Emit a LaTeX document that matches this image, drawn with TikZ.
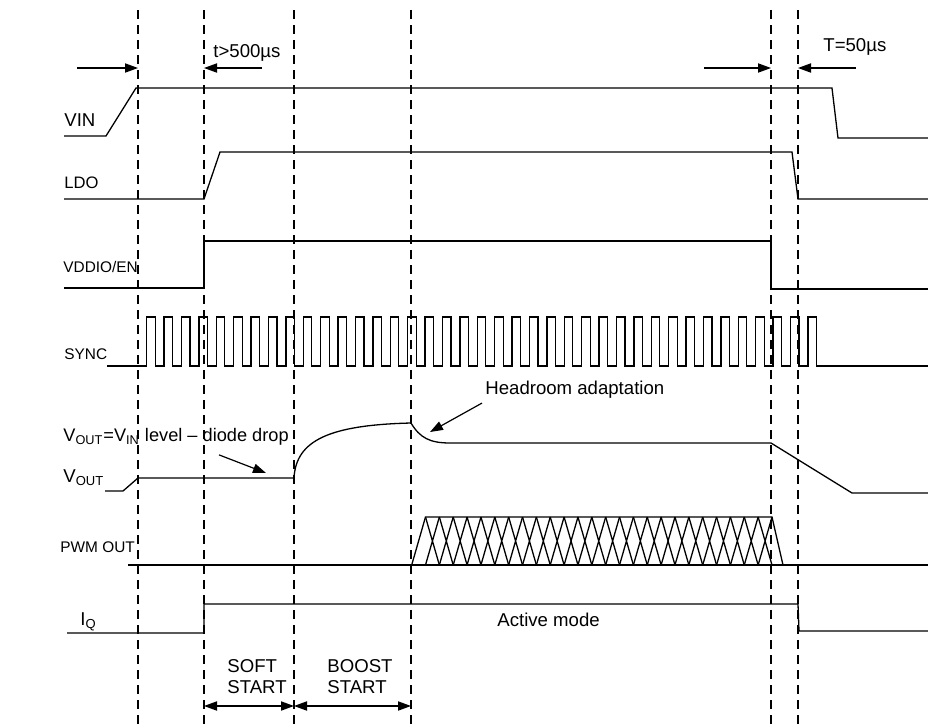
\documentclass[tikz,border=0pt]{standalone}
\usepackage{fontspec}
\setmainfont{Liberation Sans}
\usetikzlibrary{arrows.meta,positioning,calc}
\definecolor{ink}{HTML}{000000}
\tikzset{
  wave/.style={draw=ink, line width=0.65pt, line join=miter},
  guide/.style={draw=ink, line width=0.6pt, dash pattern=on 4.5pt off 3pt},
  lbl/.style={anchor=west, inner sep=0pt, font=\fontsize{9.3}{10.5}\selectfont},
  siglbl/.style={lbl, font=\fontsize{7.7}{9}\selectfont},
  tarr/.style={-{Triangle[length=6.5pt,width=4.6pt]}, line width=0.6pt, draw=ink},
  dimarr/.style={{Triangle[length=6.5pt,width=4.6pt]}-{Triangle[length=6.5pt,width=4.6pt]}, line width=0.6pt, draw=ink}
}
\begin{document}
\begin{tikzpicture}[x=0.5pt, y=-0.5pt]
  \useasboundingbox (0,0) rectangle (928,724);
  \foreach \n/\x in {m1/138, m2/204, m3/294, m4/411, m5/771, m6/798}{
    \coordinate (\n) at (\x,10);
    \draw[guide] (\n) -- (\x,724);
  }
  \node[lbl] (vinlbl) at (64,120) {VIN};
  \node[lbl, font=\fontsize{8.3}{10}\selectfont] (ldolbl) at (64,183) {LDO};
  \node[siglbl] (enlbl) at (63,267) {VDDIO/EN};
  \node[siglbl] (synclbl) at (64,354) {SYNC};
  \node[lbl] (voutlbl) at (63,478) {V\textsubscript{OUT}};
  \node[siglbl] (pwmlbl) at (60,547) {PWM OUT};
  \node[lbl] (iqlbl) at (80,622) {I\textsubscript{Q}};
  \node[lbl] (tlong) at (213,53) {t>500µs};
  \node[lbl] (tshort) at (823,47) {T=50µs};
  \node[lbl, font=\fontsize{9.1}{10.5}\selectfont] (diode) at (63,437) {V\textsubscript{OUT}=V\textsubscript{IN} level -- diode drop};
  \node[lbl] (head) at (485,390) {Headroom adaptation};
  \node[lbl] (active) at (497,620) {Active mode};
  \node[lbl, align=left] (soft) at (227,677) {SOFT\\START};
  \node[lbl, align=left] (boost) at (327,677) {BOOST\\START};
  \coordinate (a1) at (77,68);
  \coordinate (a2) at (262,68);
  \coordinate (a3) at (704,68);
  \coordinate (a4) at (856,68);
  \coordinate (b1) at (0,706);
  \draw[tarr] (a1) -- (a1 -| m1);
  \draw[tarr] (a2) -- (a2 -| m2);
  \draw[tarr] (a3) -- (a3 -| m5);
  \draw[tarr] (a4) -- (a4 -| m6);
  \draw[dimarr] (b1 -| m2) -- (b1 -| m3);
  \draw[dimarr] (b1 -| m3) -- (b1 -| m4);
  \draw[wave] (64,136) -- (106,136) -- (136,88) -- (832,88) -- (838,138) -- (928,138);
  \draw[wave] (64,199) -- (204,199) -- (220,152) -- (792,152) -- (798,199) -- (928,199);
  \draw[wave] (64,288) -- (204,288) -- (204,241) -- (771,241) -- (771,289) -- (928,289);
  \draw[wave] (107,366) -- (146.7,366)
    \foreach \i in {0,...,38}{ -- ++(0,-49) -- ++(8.5,0) -- ++(0,49) -- ++(8.9,0)} -- (928,366);
  \draw[wave] (105,491) -- (123,491) -- (138,478) -- (294,478)
    .. controls (296,440) and (330,425) .. (411,423)
    .. controls (420,438) and (430,443) .. (450,443) -- (771,443) -- (852,493) -- (928,493);
  \draw[wave] (128,565) -- (928,565);
  \draw[wave] (411.7,565) -- (425.5,517) -- (772,517) -- (783,565);
  \foreach \k in {0,...,24}
    \draw[wave] ({425.5+13.86*\k},517) -- ({425.5+13.86*(\k+1)},565)
      ({425.5+13.86*\k},565) -- ({425.5+13.86*(\k+1)},517);
  \draw[wave] (67,633) -- (204,633) -- (204,604) -- (798,604) -- (799,631) -- (928,631);
  \coordinate (dtip) at (266,473);
  \coordinate (htip) at (430,432);
  \draw[tarr] ($(diode.south)+(43,9)$) -- (dtip);
  \draw[tarr] ($(head.south west)+(-3,4)$) -- (htip);
\end{tikzpicture}
\end{document}
